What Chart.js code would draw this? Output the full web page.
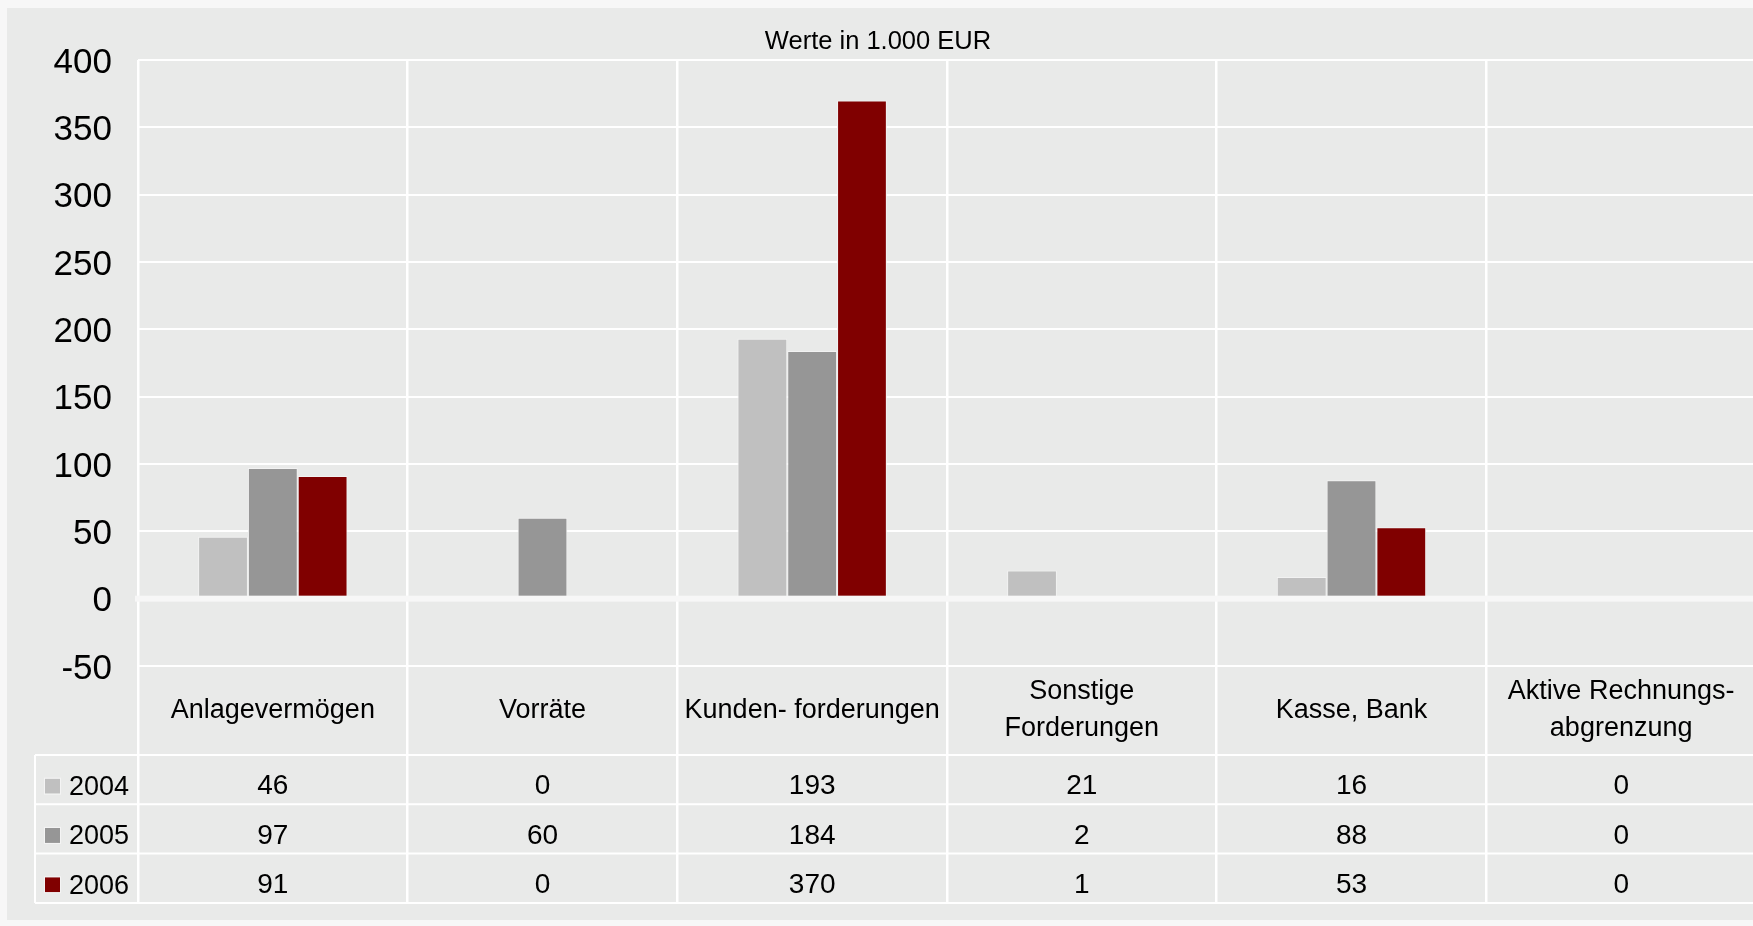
<!DOCTYPE html>
<html>
<head>
<meta charset="utf-8">
<script src="https://cdn.jsdelivr.net/npm/chart.js@4.4.1/dist/chart.umd.min.js"></script>
<style>
  html, body { margin: 0; padding: 0; background: #f7f7f7; overflow: hidden; width: 1753px; height: 926px; }
  #wrap { position: absolute; left: 0; top: 0; width: 1756px; height: 926px; }
</style>
</head>
<body>
<div id="wrap"><canvas id="c"></canvas></div>
<script>
// ---- data ----
const categories = [
  ['Anlagevermögen'],
  ['Vorräte'],
  ['Kunden- forderungen'],
  ['Sonstige', 'Forderungen'],
  ['Kasse, Bank'],
  ['Aktive Rechnungs-', 'abgrenzung']
];
const seriesNames = ['2004', '2005', '2006'];
const values2004 = [46, 0, 193, 21, 16, 0];
const values2005 = [97, 60, 184, 2, 88, 0];
const values2006 = [91, 0, 370, 1, 53, 0];
const yMin = -50;
const yMax = 400;
const yStep = 50;
const titleText = 'Werte in 1.000 EUR';

// ---- styles ----
const seriesColors = ['#c0c0c0', '#969696', '#800000'];
const FONT = "'Liberation Sans', Arial, Helvetica, sans-serif";
const TEXT = '#000000';
const PANEL = '#e9eae9';
const OUTER = '#f7f7f7';
const LINE = '#ffffff';
const LAYOUT = {
  panelLeft: 7, panelTop: 8, panelBottom: 920,
  yAxisWidth: 138, xAxisHeight: 237, labelBand: 89,
  rowH: 49.3, legendLeft: 35, bottomPad: 23
};

const allValues = [values2004, values2005, values2006];

const tablePlugin = {
  id: 'tablePlugin',
  beforeDraw(chart) {
    const ctx = chart.ctx;
    ctx.save();
    ctx.fillStyle = OUTER;
    ctx.fillRect(0, 0, chart.width, chart.height);
    ctx.fillStyle = PANEL;
    ctx.fillRect(LAYOUT.panelLeft, LAYOUT.panelTop, chart.width - LAYOUT.panelLeft, LAYOUT.panelBottom - LAYOUT.panelTop);
    ctx.restore();
  },
  afterDatasetsDraw(chart) {
    const ctx = chart.ctx, area = chart.chartArea;
    const y0 = chart.scales.y.getPixelForValue(0);
    ctx.save();
    ctx.fillStyle = OUTER;
    ctx.fillRect(area.left - 3, y0 - 3, area.right - area.left + 3, 6);
    ctx.restore();
  },
  afterDraw(chart) {
    const ctx = chart.ctx, area = chart.chartArea, xs = chart.scales.x;
    ctx.save();
    // category labels
    ctx.fillStyle = TEXT;
    ctx.font = '27px ' + FONT;
    ctx.textAlign = 'center';
    ctx.textBaseline = 'middle';
    const bandMid = area.bottom + LAYOUT.labelBand / 2;
    const lh = 37;
    categories.forEach((lines, i) => {
      const x = xs.getPixelForValue(i);
      const start = bandMid - (lines.length - 1) * lh / 2;
      lines.forEach((t, k) => ctx.fillText(t, x, start + k * lh));
    });
    // table
    const top = area.bottom + LAYOUT.labelBand;
    const rh = LAYOUT.rowH;
    ctx.strokeStyle = LINE;
    ctx.lineWidth = 2;
    for (let r = 0; r <= seriesNames.length; r++) {
      const y = top + r * rh;
      ctx.beginPath();
      ctx.moveTo(LAYOUT.legendLeft, y);
      ctx.lineTo(chart.width, y);
      ctx.stroke();
    }
    ctx.beginPath();
    ctx.moveTo(LAYOUT.legendLeft, top);
    ctx.lineTo(LAYOUT.legendLeft, top + seriesNames.length * rh);
    ctx.stroke();

    seriesNames.forEach((name, r) => {
      const cy = top + r * rh + rh / 2 + 7;
      // legend key
      ctx.fillStyle = seriesColors[r];
      ctx.fillRect(45, cy - 8, 15, 15);
      ctx.strokeStyle = '#f4f4f4';
      ctx.lineWidth = 1;
      ctx.strokeRect(44.5, cy - 8.5, 16, 16);
      ctx.fillStyle = TEXT;
      ctx.textAlign = 'left';
      ctx.font = '27px ' + FONT;
      ctx.fillText(name, 69, cy + 1);
      ctx.textAlign = 'center';
      ctx.font = '28px ' + FONT;
      allValues[r].forEach((v, i) => {
        ctx.fillText(String(v), xs.getPixelForValue(i), cy);
      });
    });
    ctx.restore();
  }
};

new Chart(document.getElementById('c'), {
  type: 'bar',
  data: {
    labels: categories.map(c => c.join(' ')),
    datasets: seriesNames.map((n, k) => ({
      label: n,
      data: allValues[k],
      backgroundColor: seriesColors[k],
      borderColor: '#f2f2f2',
      borderWidth: 1,
      categoryPercentage: 0.554,
      barPercentage: 1.0
    }))
  },
  options: {
    responsive: true,
    maintainAspectRatio: false,
    animation: false,
    events: [],
    layout: { padding: { left: 0, right: 0, top: 0, bottom: LAYOUT.bottomPad } },
    plugins: {
      legend: { display: false },
      tooltip: { enabled: false },
      title: {
        display: true,
        text: titleText,
        color: TEXT,
        font: { family: FONT, size: 25.5, weight: 'normal', lineHeight: 1.2 },
        padding: { top: 27, bottom: 2.4 }
      }
    },
    scales: {
      x: {
        offset: true,
        border: { display: false },
        grid: {
          offset: true,
          color: LINE,
          lineWidth: 2.5,
          drawTicks: true,
          tickLength: LAYOUT.xAxisHeight,
          tickColor: LINE,
          tickWidth: 2.5
        },
        ticks: { display: false },
        afterFit(scale) { scale.height = LAYOUT.xAxisHeight; }
      },
      y: {
        min: yMin,
        max: yMax,
        border: { display: false },
        grid: { color: LINE, lineWidth: 2, drawTicks: false },
        ticks: {
          stepSize: yStep,
          padding: 26,
          labelOffset: 3,
          color: TEXT,
          font: { family: FONT, size: 35 }
        },
        afterFit(scale) { scale.width = LAYOUT.yAxisWidth; }
      }
    }
  },
  plugins: [tablePlugin]
});
</script>
</body>
</html>
